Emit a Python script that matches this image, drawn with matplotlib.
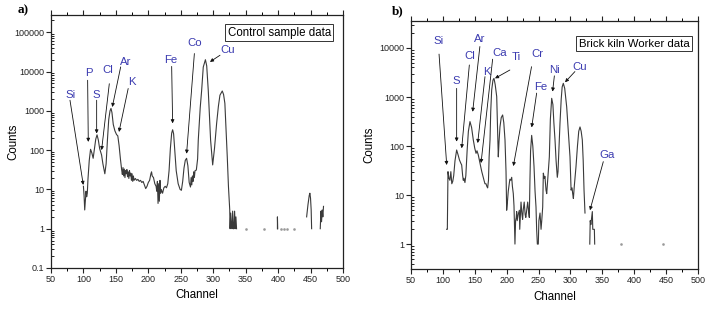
import numpy as np
import matplotlib
matplotlib.use("Agg")
import matplotlib.pyplot as plt
from matplotlib.ticker import FixedLocator, LogLocator, NullFormatter, MultipleLocator

nan = np.nan

# ---------------- Panel a: Control sample data ----------------
a_channel = [100, 101, 102, 103, 104, 105, 106, 107, 109, 111, 113, 115, 117, 119, 121, 123, 125, 128, 130, 133,
             135, 137, 139, 141, 142.5, 144, 146, 148.5, 151, 153, 155, 157, 159,
             160, 161, 162, 163, 164, 165, 166, 167, 168, 169, 170, 171, 172, 173, 174, 175, 176, 177, 178,
             180, 182, 184, 186, 188, 190, 192, 194, 196, 198, 200, 202, 204, 205, 206, 208, 210, 212, 213,
             214, 215, 216, 217, 218, 219, 220, 222, 224, 226, 228, 230, 232, 234, 236, 237.5, 239, 241, 243,
             246, 249, 251, 253, 255, 257, 259, 261, 263, 265, 266, 267, 268, 269, 270, 271, 272, 274, 276,
             277, 280, 282.2, 284.7, 288, 290, 292.4, 294, 296, 299.2, 302, 305.3, 308, 310.4, 314, 316, 318,
             320, 321.7, 323.5, 325.5, 326, 327, 328, 329, 330, 331, 332, 333, 334, 335, 336,
             nan, 399, 399, 399.4, nan,
             444, 446, 448, 449, 450, 451, 451.7, nan,
             465, 466, 467, 468, 469, 470]
a_counts = [12, 7, 3, 5, 9, 6.5, 8, 18, 55, 105, 85, 62, 110, 190, 245, 180, 110, 75, 45, 25,
            45, 180, 600, 1000, 1150, 900, 450, 310, 250, 230, 130, 60, 31,
            24, 36, 22, 33, 20, 30, 25, 32, 21, 28, 19, 30, 22, 26, 17, 25, 16, 22, 17,
            19, 17, 18, 16, 17, 15, 16, 13, 10.5, 12, 15, 17, 25, 28, 22, 20, 14, 12, 9,
            16, 4.4, 14, 5, 17, 8, 10, 8, 11, 12, 11, 14, 30, 110, 270, 330, 260, 90, 30,
            14, 10, 9.5, 16, 35, 55, 62, 40, 15, 11.5, 20, 13, 22, 16, 28, 20, 30, 31, 60,
            180, 1200, 3300, 13000, 20000, 14000, 3300, 900, 180, 42, 110, 480, 1300, 2500, 3200, 2600, 1550,
            300, 67, 12, 3, 1, 2.5, 1.2, 1, 2.8, 1, 1, 2.8, 1, 2, 1,
            nan, 1, 2, 1, nan,
            2, 4, 7, 8, 6, 3, 1, nan,
            1, 2.8, 1.5, 3, 2, 3.7]
a_dot_channel = [350, 378, 405, 409, 413, 425]
a_dot_counts = [1, 1, 1, 1, 1, 1]

a_elements = ["Si", "P", "S", "Cl", "Ar", "K", "Fe", "Co", "Cu"]
a_text_x = [80.3, 108.6, 120.4, 136.8, 165.6, 174.3, 234.5, 272, 323]
a_text_y = [2600, 9100, 2600, 10800, 17500, 5500, 19300, 52000, 35000]
a_tail_x = [79.3, 106.5, 120.4, 139.9, 157.4, 169, 236, 271, 310.5]
a_tail_y = [1860, 6000, 1860, 4900, 13100, 3700, 13500, 28700, 26000]
a_head_x = [99.8, 107.5, 120.4, 128, 144.5, 154.8, 237.5, 259, 295]
a_head_y = [13, 162, 265, 100, 1250, 290, 480, 81, 17600]

# ---------------- Panel b: Brick kiln Worker data ----------------
b_channel = [106, 107, 108, 109.5, 111, 112.5, 114, 115.5, 117, 119, 121.6, 124, 126, 128, 129.5, 131, 132, 133,
             134.6, 136, 138, 140, 142.5, 145, 147.7, 150, 152, 153.5, 155.5, 157.5, 159.3, 161, 162.5, 164.5,
             166, 167.6, 169, 170.2, 171.5, 172.5, 173.9, 175, 176.5, 178.5, 180.1, 182, 184.4, 185.5, 186.9,
             188, 189.5, 191.5, 193.7, 195.5, 197.4, 199, 200, 201, 202.5, 204.1, 205, 206.5, 207.9, 209, 210.4,
             211.5, 212.3, 213, 214, 215, 215.7, 216.5, 218, 219.9, 220.5, 222.5, 224, 225, 226, 227.5, 229,
             230, 231.5, 233, 234.5, 235.5, 236.5, 237.5, 239.2, 241, 242.9, 244.5, 246, 247, 248.1, 249.6,
             250.5, 252.3, 253.9, 255, 256.5, 257.5, 259, 260, 261.7, 262.8, 263.9, 265.5, 266.9, 268.5, 270.6,
             272.5, 274, 275.8, 277.5, 279.4, 280.5, 282, 283.6, 285.5, 287, 288.8, 291, 294.1, 296.7, 299.3,
             301, 302.5, 303.5, 304.6, 306, 308.7, 311, 313, 315, 316.8, 318.6, 320, 321.3, 322.8, nan,
             330.3, 331, 332, 333, 334.3, 335, 336, 337.5, 338]
b_counts = [2, 2, 30, 22, 20, 30, 17, 19, 25, 50, 83, 65, 52, 45, 41, 25, 20, 22,
            18, 25, 80, 200, 315, 240, 133, 90, 71, 80, 66, 50, 38, 30, 25, 20,
            17, 17, 15, 14, 20, 60, 133, 500, 1380, 2200, 2400, 1800, 1020, 300, 60,
            120, 245, 380, 430, 300, 133, 30, 4.9, 6.7, 12, 17, 21, 20, 23, 15, 10.7,
            6, 2.5, 1, 3, 3.5, 4.6, 3, 4, 4.9, 2, 7.2, 4, 3.2, 5, 7.2, 4,
            3.5, 5, 7.2, 4.5, 3.5, 20, 80, 165, 100, 38, 12, 5.7, 2, 1, 1,
            3, 4.3, 2, 3, 5.7, 28, 22, 24, 12.6, 10.7, 17, 35, 60, 350, 940,
            700, 300, 133, 50, 23, 30, 90, 290, 900, 1600, 1900, 1500, 630, 200, 60,
            12.6, 14, 10.7, 8.5, 15, 38, 100, 200, 245, 200, 133, 50, 12.6, 4.3, nan,
            1, 3, 2.5, 3.2, 4.6, 2, 2, 2, 1]
b_dot_channel = [380, 445]
b_dot_counts = [1, 1]

b_elements = ["Si", "S", "Cl", "Ar", "K", "Ca", "Ti", "Cr", "Fe", "Ni", "Cu", "Ga"]
b_text_x = [93.9, 120.5, 141.5, 157, 168.7, 189.5, 215.7, 248, 253.8, 274.8, 314, 357.8]
b_text_y = [14000, 2100, 6900, 15000, 3300, 8000, 6500, 7400, 1580, 3550, 4150, 66]
b_tail_x = [94, 121.6, 141.5, 158, 166, 178, 205, 239, 247, 274.8, 307, 351.5]
b_tail_y = [7500, 1500, 4500, 10700, 2600, 5900, 3550, 4150, 1200, 2700, 3300, 48]
b_head_x = [106, 121.6, 129.5, 146.7, 154.6, 159.8, 181.7, 210.5, 239.2, 272, 291.5, 330.6]
b_head_y = [41, 123, 90, 500, 115, 45, 2400, 39, 240, 1290, 2000, 4.9]

a_yticks = [0.1, 1, 10, 100, 1000, 10000, 100000]
a_yticklabels = ["0.1", "1", "10", "100", "1000", "10000", "100000"]
b_yticks = [1, 10, 100, 1000, 10000]
b_yticklabels = ["1", "10", "100", "1000", "10000"]
x_ticks = [50, 100, 150, 200, 250, 300, 350, 400, 450, 500]

plt.rcParams['font.family'] = ['Liberation Sans', 'DejaVu Sans']

fig = plt.figure(figsize=(7.07, 3.09), dpi=100)
ax_a = fig.add_axes([0.0721, 0.1327, 0.4130, 0.8188])
ax_b = fig.add_axes([0.5813, 0.1294, 0.4060, 0.8036])

line_color = '#3a3a3a'
label_color = '#3b3bb0'


def style_axes(ax, yticks, yticklabels, ylim, ylabel_x):
    ax.set_yscale('log')
    ax.set_xlim(50, 500)
    ax.set_ylim(*ylim)
    ax.set_xticks(x_ticks)
    ax.set_xticklabels([str(t) for t in x_ticks])
    ax.xaxis.set_minor_locator(MultipleLocator(25))
    ax.yaxis.set_major_locator(FixedLocator(yticks))
    ax.set_yticklabels(yticklabels)
    ax.yaxis.set_minor_locator(LogLocator(base=10, subs=np.arange(2, 10)))
    ax.yaxis.set_minor_formatter(NullFormatter())
    ax.tick_params(axis='both', which='major', labelsize=6.5, length=3.5, width=0.8,
                   direction='out', colors='#222222', pad=1.5)
    ax.tick_params(axis='x', which='minor', length=2, width=0.7, direction='out')
    ax.tick_params(axis='y', which='minor', length=1.8, width=0.6, direction='in')
    ax.tick_params(axis='x', which='both', top=True)
    for s in ax.spines.values():
        s.set_linewidth(0.9)
        s.set_color('#222222')
    ax.set_xlabel('Channel', fontsize=8.3, labelpad=4)
    ax.set_ylabel('Counts', fontsize=8.3)
    ax.yaxis.set_label_coords(ylabel_x, 0.5)


def annotate(ax, names, tx, ty, sx, sy, hx, hy):
    for n, x, y, x0, y0, x1, y1 in zip(names, tx, ty, sx, sy, hx, hy):
        ax.text(x, y, n, color=label_color, fontsize=8.2, ha='center', va='center')
        ax.annotate('', xy=(x1, y1), xytext=(x0, y0),
                    arrowprops=dict(arrowstyle='-|>', color='#111111', lw=0.6,
                                    mutation_scale=5, shrinkA=0, shrinkB=0))


# Panel a
ax_a.plot(a_channel, a_counts, color=line_color, lw=0.8)
ax_a.plot(a_dot_channel, a_dot_counts, ls='none', marker='s', ms=0.8, color='#999999')
style_axes(ax_a, a_yticks, a_yticklabels, (0.1, 2.75e5), -0.108)
annotate(ax_a, a_elements, a_text_x, a_text_y, a_tail_x, a_tail_y, a_head_x, a_head_y)
ax_a.text(0.782, 0.929, 'Control sample data', transform=ax_a.transAxes, fontsize=8.3,
          ha='center', va='center',
          bbox=dict(boxstyle='square,pad=0.22', fc='white', ec='#333333', lw=0.7))
fig.text(0.033, 0.968, 'a)', fontsize=9.5, fontweight='bold', family='Liberation Serif',
         ha='center', va='center')

# Panel b
ax_b.plot(b_channel, b_counts, color=line_color, lw=0.8)
ax_b.plot(b_dot_channel, b_dot_counts, ls='none', marker='s', ms=0.8, color='#999999')
style_axes(ax_b, b_yticks, b_yticklabels, (0.31, 3.6e4), -0.125)
annotate(ax_b, b_elements, b_text_x, b_text_y, b_tail_x, b_tail_y, b_head_x, b_head_y)
ax_b.text(0.778, 0.908, 'Brick kiln Worker data', transform=ax_b.transAxes, fontsize=8.2,
          ha='center', va='center',
          bbox=dict(boxstyle='square,pad=0.22', fc='white', ec='#333333', lw=0.7))
fig.text(0.563, 0.962, 'b)', fontsize=9.5, fontweight='bold', family='Liberation Serif',
         ha='center', va='center')

fig.savefig('out.png', dpi=100)
